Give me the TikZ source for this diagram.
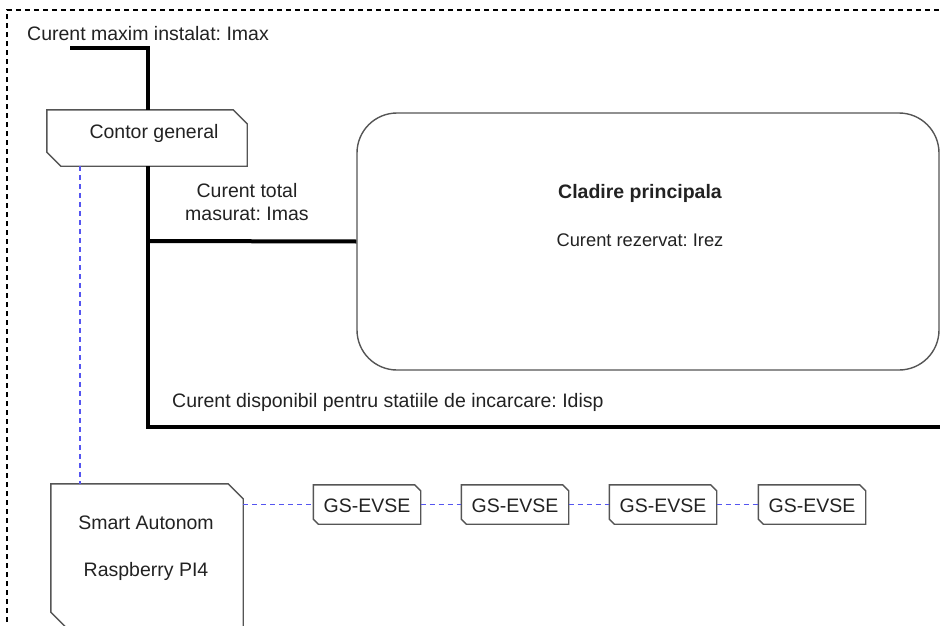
\documentclass[tikz,border=0pt]{standalone}
\usepackage{fontspec}
\setmainfont{Liberation Sans}
\usetikzlibrary{calc}
\definecolor{boxgray}{HTML}{555555}
\definecolor{linkblue}{HTML}{5555F0}
\definecolor{txt}{HTML}{222222}
\tikzset{
  power/.style={line width=4pt, black},
  boxline/.style={line width=1.4pt, boxgray},
  link/.style={line width=1.1pt, linkblue, dash pattern=on 5pt off 4pt},
  frame/.style={line width=1.4pt, black, dash pattern=on 5pt off 4pt},
  lbl/.style={font=\fontsize{19.5}{23}\selectfont, text=txt, inner sep=0pt},
  holder/.style={rectangle, inner sep=0pt, draw=none},
}
\newcommand{\chamfbox}[3]{%
  \draw[boxline] (#1.north west) -- ([xshift=-#2pt]#1.north east) -- ([yshift=-#2pt]#1.north east)
    -- (#1.south east) -- ([xshift=#3pt]#1.south west) -- ([yshift=#3pt]#1.south west) -- cycle;}
\frenchspacing
\begin{document}
\begin{tikzpicture}[x=1pt,y=-1pt]
\useasboundingbox (0,0) rectangle (940,626);
\begin{scope}
\clip (0,0) rectangle (940,626);
% outer dashed frame
\draw[frame] (7,640) -- (7,10) -- (950,10);

% nodes
\node[lbl, anchor=west] (imaxlbl) at (27,34) {Curent maxim instalat: Imax};
\node[holder, minimum width=200pt, minimum height=56pt] (contor) at (147,138) {};
\node[lbl] (contortxt) at (154,133) {Contor general};
\node[draw=boxgray, line width=1.4pt, rounded corners=40pt, minimum width=582pt, minimum height=257pt] (bldg) at (648,241.5) {};
\node[lbl, font=\fontsize{19.5}{23}\selectfont\bfseries] (bldgtitle) at (640,193) {Cladire principala};
\node[lbl, font=\fontsize{18.3}{22}\selectfont] (bldgsub) at (640,240) {Curent rezervat: Irez};
\node[lbl, align=center] (imaslbl) at (247,202) {Curent total\\masurat: Imas};
\node[lbl, anchor=west] (idisplbl) at (172,402) {Curent disponibil pentru statiile de incarcare: Idisp};

\node[holder, minimum width=192pt, minimum height=143pt] (smart) at (147,555.5) {};
\node[lbl, align=center] (smarttxt) at (146,548.5) {Smart Autonom\\[24pt]Raspberry PI4};

\node[holder, minimum width=107pt, minimum height=39pt] (gs1) at (367,504.5) {};
\node[holder, minimum width=107pt, minimum height=39pt] (gs2) at (515,504.5) {};
\node[holder, minimum width=107pt, minimum height=39pt] (gs3) at (663,504.5) {};
\node[holder, minimum width=107pt, minimum height=39pt] (gs4) at (812,504.5) {};
\foreach \g in {gs1,gs2,gs3,gs4}{\node[lbl] at ($(\g.center)+(0,1)$) {GS-EVSE};}

\chamfbox{contor}{14}{14}
\chamfbox{smart}{15}{15}
\chamfbox{gs1}{6}{5}
\chamfbox{gs2}{6}{5}
\chamfbox{gs3}{6}{5}
\chamfbox{gs4}{6}{5}

% power lines
\coordinate (imaxend) at (70,48);
\coordinate (j1) at (148,241);
\coordinate (j2) at (148,427);
\coordinate (busend) at (945,427);
\draw[power] (imaxend) -- (imaxend -| j1) -- (contor.north -| j1);
\draw[power] (contor.south -| j1) -- (j2) -- (busend);
\draw[power] (j1) -- (bldg.west);

% communication links
\draw[link] (contor.south -| 80,0) -- (smart.north -| 80,0);
\draw[link] (gs1.west -| smart.east) -- (gs1.west);
\draw[link] (gs1.east) -- (gs2.west);
\draw[link] (gs2.east) -- (gs3.west);
\draw[link] (gs3.east) -- (gs4.west);
\end{scope}
\end{tikzpicture}
\end{document}
